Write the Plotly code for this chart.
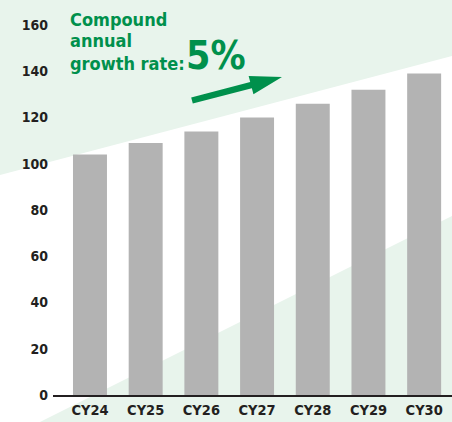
import numpy as np
import plotly.graph_objects as go

categories = ["CY24", "CY25", "CY26", "CY27", "CY28", "CY29", "CY30"]
values = [104, 109, 114, 120, 126, 132, 139]
y_ticks = [0, 20, 40, 60, 80, 100, 120, 140, 160]

W, H = 452, 422
ML, MR, MT, MB = 53, 0, 0, 27
PW, PH = W - ML - MR, H - MT - MB

def px(x, y):
    return (x - ML) / PW, (H - MB - y) / PH

def path(points):
    s = ""
    for i, (x, y) in enumerate(points):
        a, b = px(x, y)
        s += ("M" if i == 0 else "L") + f"{a:.5f},{b:.5f} "
    return s + "Z"

GREEN_BG = "#e8f4ec"
GREEN = "#00904c"
DARK = "#231f20"
FONT = "DejaVu Sans Condensed, Liberation Sans Narrow, sans-serif"

fig = go.Figure(go.Bar(x=categories, y=values, marker=dict(color="#b3b3b3", line=dict(width=0)),
                       hoverinfo="skip"))

shapes = []
shapes.append(dict(type="path", xref="paper", yref="paper", layer="below",
                   path=path([(0, 175), (452, 56), (452, 216), (40, 422), (0, 422)]),
                   fillcolor="white", line=dict(width=0)))

tail = np.array([192.0, 100.5])
tip = np.array([282.0, 77.0])
d = tip - tail
u = d / np.hypot(*d)
n = np.array([-u[1], u[0]])
hw, headL, headW = 3.2, 32.0, 9.5
base = tip - u * headL
pts = [tail + n * hw, base + n * hw, base + n * headW, tip, base - n * headW, base - n * hw, tail - n * hw]
shapes.append(dict(type="path", xref="paper", yref="paper", layer="above",
                   path=path([tuple(p) for p in pts]), fillcolor=GREEN, line=dict(width=0)))

annotations = []
for txt, yb in [("Compound", 27), ("annual", 48), ("growth rate:", 71)]:
    ax, ay = px(68, yb + 5)
    annotations.append(dict(text=f"<b>{txt}</b>", x=ax, y=ay, xref="paper", yref="paper",
                            xanchor="left", yanchor="bottom", showarrow=False,
                            font=dict(family=FONT, size=18, color=GREEN)))
ax, ay = px(184, 80)
annotations.append(dict(text="<b>5%</b>", x=ax, y=ay, xref="paper", yref="paper",
                        xanchor="left", yanchor="bottom", showarrow=False,
                        font=dict(family=FONT, size=39, color=GREEN)))

fig.update_layout(
    width=W, height=H,
    margin=dict(l=ML, r=MR, t=MT, b=MB, pad=0),
    paper_bgcolor=GREEN_BG, plot_bgcolor="rgba(0,0,0,0)",
    bargap=0.39, showlegend=False,
    shapes=shapes, annotations=annotations,
    xaxis=dict(type="category", range=[-0.664, 6.5], showgrid=False, zeroline=False,
               showline=True, linecolor=DARK, linewidth=2, ticks="",
               tickfont=dict(family=FONT, size=14.5, color=DARK, weight="bold"),
               ticklabelstandoff=1),
    yaxis=dict(range=[0, 395 / 2.3125], tickvals=y_ticks, showgrid=False, zeroline=False,
               showline=False, ticks="",
               tickfont=dict(family=FONT, size=14, color=DARK, weight="bold"),
               ticklabelstandoff=4),
)

fig.write_html("out.html", config={"displayModeBar": False},
               post_script="document.body.style.margin='0';document.body.style.overflow='hidden';")
